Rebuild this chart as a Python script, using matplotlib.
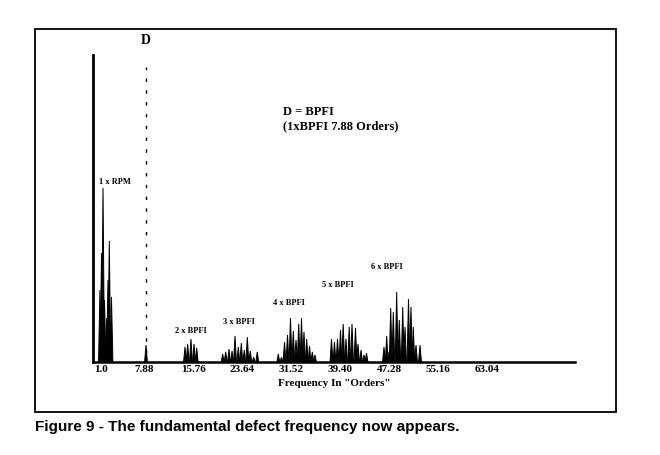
import matplotlib
matplotlib.use("Agg")
import matplotlib.pyplot as plt
from matplotlib.patches import Rectangle

# ---- data (frequency in orders, amplitude in % of full scale) ----
rpm1_freq = [0.80, 1.05, 1.29, 1.53, 1.88, 2.09, 2.30, 2.65]
rpm1_amp = [23.5, 35.5, 56.7, 20.2, 14.3, 26.7, 39.4, 21.2]

bpfi1_freq = [8.20]
bpfi1_amp = [5.5]

bpfi2_freq = [14.47, 14.90, 15.43, 15.92, 16.35]
bpfi2_amp = [4.9, 5.9, 7.5, 5.9, 4.6]

bpfi3_freq = [20.53, 21.01, 21.54, 22.03, 22.51, 23.04, 23.52, 24.00, 24.49, 24.97, 25.51, 26.09]
bpfi3_amp = [2.6, 3.3, 4.2, 3.6, 8.5, 4.9, 6.2, 3.9, 8.1, 3.6, 1.6, 3.3]

bpfi4_freq = [29.47, 29.98, 30.47, 30.95, 31.43, 31.88, 32.32, 32.75, 33.20, 33.60, 34.04, 34.49, 34.94, 35.37]
bpfi4_amp = [2.6, 1.6, 6.5, 8.8, 14.3, 10.1, 7.2, 12.4, 14.3, 9.8, 7.5, 5.2, 3.3, 2.3]

bpfi5_freq = [38.02, 38.50, 38.99, 39.47, 39.90, 40.35, 40.87, 41.32, 41.88, 42.28, 42.77, 43.25, 43.65]
bpfi5_amp = [7.5, 6.5, 7.5, 10.4, 12.4, 7.5, 11.4, 12.4, 11.1, 5.9, 3.9, 2.3, 2.9]

bpfi6_freq = [46.46, 46.90, 47.27, 47.54, 47.96, 48.50, 48.92, 49.47, 49.84, 50.40, 50.80, 51.17, 51.61, 52.25]
bpfi6_amp = [4.9, 8.5, 3.3, 17.6, 16.3, 22.8, 13.7, 17.9, 11.4, 20.5, 17.9, 11.4, 5.5, 5.5]

bpfi_line = 8.20
tick_values = [1.0, 7.88, 15.76, 23.64, 31.52, 39.40, 47.28, 55.16, 63.04]
tick_labels = ["1.0", "7.88", "15.76", "23.64", "31.52", "39.40", "47.28", "55.16", "63.04"]

cluster_labels = ["1 x RPM", "2 x BPFI", "3 x BPFI", "4 x BPFI", "5 x BPFI", "6 x BPFI"]
cluster_label_x = [3.2, 15.4, 23.2, 31.2, 39.0, 46.9]
cluster_label_y = [58.6, 10.1, 13.0, 19.2, 25.1, 30.9]

serif = ["Liberation Serif", "DejaVu Serif"]

fig = plt.figure(figsize=(6.6, 4.55), dpi=100)
fig.patch.set_facecolor("white")

# outer frame
fig.patches.append(Rectangle((35 / 660, 1 - 412 / 455), 581 / 660, 383 / 455,
                             transform=fig.transFigure, fill=False,
                             edgecolor="black", linewidth=1.3))

ax = fig.add_axes([93 / 660, 1 - 362 / 455, 482 / 660, 307 / 455])
ax.set_xlim(-0.32, 77.17)
ax.set_ylim(0, 100)

hw = 0.23
all_groups = [(rpm1_freq, rpm1_amp), (bpfi1_freq, bpfi1_amp), (bpfi2_freq, bpfi2_amp),
              (bpfi3_freq, bpfi3_amp), (bpfi4_freq, bpfi4_amp), (bpfi5_freq, bpfi5_amp),
              (bpfi6_freq, bpfi6_amp)]
for freqs, amps in all_groups:
    for f, a in zip(freqs, amps):
        ax.fill([f - hw, f, f + hw], [0, a, 0], color="black", linewidth=0.7)

ax.axvline(bpfi_line, ymin=0.03, ymax=0.96, color="black", lw=1.0, ls=(0, (2.5, 6)))

for lab, x, y in zip(cluster_labels, cluster_label_x, cluster_label_y):
    ax.text(x, y, lab, ha="center", va="center", fontsize=6, fontweight="bold",
            family=serif)

ax.text(bpfi_line, 102.5, "D", ha="center", va="bottom", fontsize=10, fontweight="bold",
        family=serif, clip_on=False)
ax.text(30.2, 79.2, "D = BPFI\n(1xBPFI 7.88 Orders)", ha="left", va="center",
        fontsize=9, fontweight="bold", family=serif, linespacing=1.25)

ax.set_xticks(tick_values)
ax.set_xticklabels(tick_labels, fontsize=8, fontweight="bold", family=serif)
ax.tick_params(axis="x", length=0, pad=2.5)
ax.set_yticks([])
ax.set_xlabel('Frequency In "Orders"', fontsize=8, fontweight="bold", family=serif,
              labelpad=3)

for s in ["top", "right"]:
    ax.spines[s].set_visible(False)
ax.spines["left"].set_linewidth(2.0)
ax.spines["bottom"].set_linewidth(1.8)

fig.text(35 / 660, 1 - 420 / 455, "Figure 9 - The fundamental defect frequency now appears.",
         ha="left", va="top", fontsize=11, fontweight="bold",
         family=["Liberation Sans", "DejaVu Sans"])

fig.savefig("out.png", dpi=100, facecolor="white")
